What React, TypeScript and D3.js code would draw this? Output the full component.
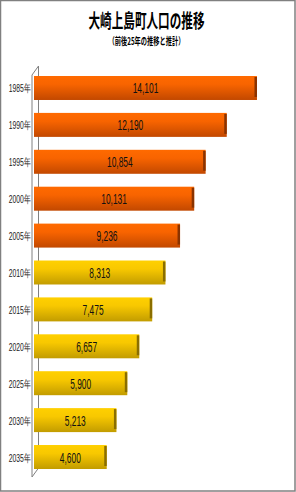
import * as d3 from "d3";

// population by year (actual up to 2005, projection after)
const years = ["1985年", "1990年", "1995年", "2000年", "2005年", "2010年", "2015年", "2020年", "2025年", "2030年", "2035年"];
const population = [14101, 12190, 10854, 10131, 9236, 8313, 7475, 6657, 5900, 5213, 4600];
const isProjection = [false, false, false, false, false, true, true, true, true, true, true];

const title = "大崎上島町人口の推移";
const subtitle = "（前後25年の推移と推計）";

const width = 296;
const height = 492;

// depth offset of the 3d wall
const depth = 6.5;

export default function App() {
  const x = d3.scaleLinear([0, 16000], [34, 287]);
  const y = d3.scaleBand(years, [76, 469]).paddingInner(0.35).paddingOuter(0);
  const bh = y.bandwidth();
  const fmt = d3.format(",");

  const wallTop = 75;
  const wallBottom = 477;
  const wallX = 32;

  return (
    <svg
      width={width}
      height={height}
      style={{ position: "absolute", left: 0, top: 0, background: "#fff" }}
    >
      <defs>
        <linearGradient id="gOrange" x1="0" y1="0" x2="0" y2="1">
          <stop offset="0" stopColor="#ff6a00" />
          <stop offset="0.35" stopColor="#f86400" />
          <stop offset="1" stopColor="#c24800" />
        </linearGradient>
        <linearGradient id="gYellow" x1="0" y1="0" x2="0" y2="1">
          <stop offset="0" stopColor="#ffd000" />
          <stop offset="0.35" stopColor="#f8c800" />
          <stop offset="1" stopColor="#c29c00" />
        </linearGradient>
      </defs>

      <rect x={0.5} y={0.5} width={294.5} height={490.5} fill="none" stroke="#808080" strokeWidth={1.5} />

      <text
        x={146.5}
        y={28}
        textAnchor="middle"
        fontFamily="Noto Sans CJK JP"
        fontWeight="bold"
        fontSize={19}
        textLength={116}
        lengthAdjust="spacingAndGlyphs"
      >
        {title}
      </text>
      <text
        x={146.5}
        y={44.5}
        textAnchor="middle"
        fontFamily="Noto Sans CJK JP"
        fontWeight="bold"
        fontSize={10}
        textLength={76}
        lengthAdjust="spacingAndGlyphs"
      >
        {subtitle}
      </text>

      {/* 3d wall */}
      <g fill="none" stroke="#808080" strokeWidth={1}>
        <path
          d={`M${wallX},${wallBottom} L${wallX},${wallTop} L${wallX + depth},${wallTop - 9} L${wallX + depth},${wallBottom - 9} Z`}
        />
      </g>

      {years.map((yr, i) => {
        const y0 = y(yr) as number;
        const x1 = x(population[i]);
        const x0 = x(0);
        const proj = isProjection[i];
        return (
          <g key={yr}>
            <rect x={x0} y={y0} width={x1 - x0} height={bh} fill={proj ? "url(#gYellow)" : "url(#gOrange)"} />
            <rect x={x1 - 2.5} y={y0 + 1} width={2.5} height={bh - 4} fill={proj ? "#8a6e00" : "#8a3300"} />
            <text
              transform={`translate(${(x0 + x1) / 2},${y0 + bh / 2 + 5.5}) scale(0.56,1)`}
              textAnchor="middle"
              fontFamily="Liberation Sans"
              fontSize={15}
              fill="#111"
            >
              {fmt(population[i])}
            </text>
            <text
              transform={`translate(30.5,${y0 + bh / 2 + 4.5}) scale(0.62,1)`}
              textAnchor="end"
              fontFamily="Liberation Sans"
              fontSize={11}
              fill="#222"
            >
              {yr}
            </text>
          </g>
        );
      })}
    </svg>
  );
}
